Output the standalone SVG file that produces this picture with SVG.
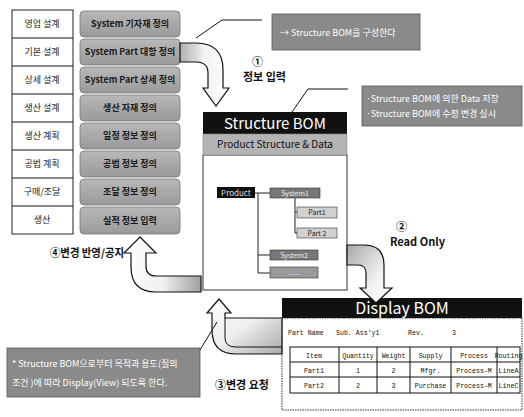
<svg xmlns="http://www.w3.org/2000/svg" width="524" height="417" viewBox="0 0 524 417">
<defs>
<linearGradient id="gbox" x1="0" y1="0" x2="0" y2="1"><stop offset="0" stop-color="#b8b8b8"/><stop offset="1" stop-color="#9a9a9a"/></linearGradient>
<linearGradient id="a1" x1="0" y1="0" x2="1" y2="0"><stop offset="0" stop-color="#b0b0b0"/><stop offset="0.5" stop-color="#f2f2f2"/><stop offset="1" stop-color="#ffffff"/></linearGradient>
<linearGradient id="a2" x1="0" y1="0" x2="1" y2="1"><stop offset="0" stop-color="#a8a8a8"/><stop offset="0.6" stop-color="#f0f0f0"/><stop offset="1" stop-color="#ffffff"/></linearGradient>
<linearGradient id="a4" x1="0" y1="0" x2="1" y2="0"><stop offset="0" stop-color="#ffffff"/><stop offset="0.5" stop-color="#f0f0f0"/><stop offset="1" stop-color="#a0a0a0"/></linearGradient>
<linearGradient id="a3" x1="0" y1="0" x2="1" y2="1"><stop offset="0" stop-color="#ffffff"/><stop offset="0.5" stop-color="#eeeeee"/><stop offset="1" stop-color="#a8a8a8"/></linearGradient>
</defs>
<style>
text{font-family:"Noto Sans CJK KR","Noto Sans",sans-serif;}
.lbox{fill:#fff;stroke:#222;stroke-width:1;}
.lt{font-size:9px;fill:#222;text-anchor:middle;}
.gb{fill:url(#gbox);stroke:#777;stroke-width:0.8;}
.gt{font-size:9px;fill:#1a1a1a;font-weight:bold;text-anchor:middle;}
.note{fill:#8a8a8a;stroke:#555;stroke-width:0.8;}
.nt{font-size:9px;fill:#fff;}
.lbl{font-size:11px;font-weight:bold;fill:#111;}
.arrow{stroke:#111;stroke-width:1.2;}
.ln{fill:none;stroke:#111;stroke-width:1;}
.mono{font-family:"Liberation Mono",monospace;font-size:6.6px;fill:#111;}
.cell{fill:#fff;stroke:#111;stroke-width:1;}
.tree{fill:none;stroke:#222;stroke-width:1;}
</style>

<g id="left-column">
<rect class="lbox" x="12" y="10" width="61" height="224"/>
<line class="ln" x1="12" y1="38" x2="73" y2="38"/>
<line class="ln" x1="12" y1="66" x2="73" y2="66"/>
<line class="ln" x1="12" y1="94" x2="73" y2="94"/>
<line class="ln" x1="12" y1="122" x2="73" y2="122"/>
<line class="ln" x1="12" y1="150" x2="73" y2="150"/>
<line class="ln" x1="12" y1="178" x2="73" y2="178"/>
<line class="ln" x1="12" y1="206" x2="73" y2="206"/>
<text class="lt" x="42" y="27">영업 설계</text>
<text class="lt" x="42" y="55">기본 설계</text>
<text class="lt" x="42" y="83">상세 설계</text>
<text class="lt" x="42" y="111">생산 설계</text>
<text class="lt" x="42" y="139">생산 계획</text>
<text class="lt" x="42" y="167">공법 계획</text>
<text class="lt" x="42" y="195">구매/조달</text>
<text class="lt" x="42" y="223">생산</text>
</g>

<g id="gray-column">
<rect class="gb" x="80" y="11" width="100" height="26" rx="4"/>
<rect class="gb" x="80" y="39" width="100" height="26" rx="4"/>
<rect class="gb" x="80" y="67" width="100" height="26" rx="4"/>
<rect class="gb" x="80" y="95" width="100" height="26" rx="4"/>
<rect class="gb" x="80" y="123" width="100" height="26" rx="4"/>
<rect class="gb" x="80" y="151" width="100" height="26" rx="4"/>
<rect class="gb" x="80" y="179" width="100" height="26" rx="4"/>
<rect class="gb" x="80" y="207" width="100" height="27" rx="4"/>
<text class="gt" x="130" y="27">System 기자재 정의</text>
<text class="gt" x="130" y="55">System Part 대항 정의</text>
<text class="gt" x="130" y="83">System Part 상세 정의</text>
<text class="gt" x="130" y="111">생산 자재 정의</text>
<text class="gt" x="130" y="139">일정 정보 정의</text>
<text class="gt" x="130" y="167">공법 정보 정의</text>
<text class="gt" x="130" y="195">조달 정보 정의</text>
<text class="gt" x="130" y="224">실적 정보 입력</text>
</g>

<g id="note1">
<rect class="note" x="272" y="14" width="148" height="36"/>
<text class="nt" x="280" y="36">→ Structure BOM을 구성한다</text>
</g>

<g id="note2">
<rect class="note" x="362" y="86" width="160" height="40"/>
<text class="nt" x="366" y="102">·Structure BOM에 의한 Data 저장</text>
<text class="nt" x="366" y="117">·Structure BOM에 수정 변경 실시</text>
</g>

<g id="note3">
<rect class="note" x="7" y="348" width="193" height="49"/>
<text class="nt" x="12" y="367">* Structure BOM으로부터 목적과 용도(질의</text>
<text class="nt" x="12" y="386">조건 )에 따라 Display(View) 되도록 한다.</text>
</g>

<g id="structure-bom">
<rect x="203" y="155" width="144" height="135" fill="#fff" stroke="#333" stroke-width="1"/>
<rect x="203" y="112" width="144" height="22" fill="#111"/>
<text x="275" y="129" font-size="15" fill="#fff" text-anchor="middle">Structure BOM</text>
<rect x="203" y="134" width="144" height="21" fill="#b4b4b4" stroke="#888" stroke-width="0.6"/>
<text x="275" y="148" font-size="10" fill="#111" text-anchor="middle">Product  Structure &amp; Data</text>
<path class="tree" d="M255,193 H270 M258,193 V273 H270 M258,255 H270 M295,198 V233 H297 M295,212 H297"/>
<rect x="217" y="187" width="38" height="11" fill="#111"/>
<text x="236" y="196" font-size="8" fill="#ddd" text-anchor="middle" font-family="Liberation Mono,monospace">Product</text>
<rect x="270" y="188" width="50" height="10" fill="#777" stroke="#333" stroke-width="0.6"/>
<text x="295" y="196" font-size="7" fill="#eee" text-anchor="middle">System1</text>
<rect x="297" y="207" width="40" height="11" fill="#d0d0d0" stroke="#333" stroke-width="0.6"/>
<text x="317" y="215" font-size="7" fill="#222" text-anchor="middle" font-family="Liberation Mono,monospace">Part1</text>
<rect x="297" y="228" width="40" height="10" fill="#d0d0d0" stroke="#333" stroke-width="0.6"/>
<text x="317" y="236" font-size="7" fill="#222" text-anchor="middle" font-family="Liberation Mono,monospace">Part 2</text>
<rect x="270" y="250" width="48" height="10" fill="#777" stroke="#333" stroke-width="0.6"/>
<text x="294" y="258" font-size="7" fill="#eee" text-anchor="middle">System2</text>
<rect x="270" y="267" width="48" height="11" fill="#999" stroke="#333" stroke-width="0.6"/>
<text x="294" y="275" font-size="7" fill="#eee" text-anchor="middle">......</text>
</g>

<g id="display-bom">
<rect x="282" y="318" width="240" height="92" fill="#fff" stroke="#333" stroke-width="1" stroke-dasharray="1.5,1"/>
<rect x="282" y="298" width="240" height="20" fill="#111"/>
<text x="402" y="314" font-size="16" fill="#fff" text-anchor="middle">Display BOM</text>
<text class="mono" x="288" y="335">Part Name</text>
<text class="mono" x="336" y="335">Sub. Ass'y1</text>
<text class="mono" x="408" y="335">Rev.</text>
<text class="mono" x="452" y="335">3</text>
<rect class="cell" x="290" y="347" width="230" height="46"/>
<path class="ln" d="M290,362 H520 M290,377 H520 M339,347 V393 M377,347 V393 M410,347 V393 M451,347 V393 M497,347 V393"/>
<g text-anchor="middle">
<text class="mono" x="314" y="357.5">Item</text>
<text class="mono" x="358" y="357.5">Quantity</text>
<text class="mono" x="393.5" y="357.5">Weight</text>
<text class="mono" x="430.5" y="357.5">Supply</text>
<text class="mono" x="474" y="357.5">Process</text>
<text class="mono" x="508.5" y="357.5">Routing</text>
<text class="mono" x="314" y="372.5">Part1</text>
<text class="mono" x="358" y="372.5">1</text>
<text class="mono" x="393.5" y="372.5">2</text>
<text class="mono" x="430.5" y="372.5">Mfgr.</text>
<text class="mono" x="474" y="372.5">Process-M</text>
<text class="mono" x="508.5" y="372.5">LineA</text>
<text class="mono" x="314" y="388">Part2</text>
<text class="mono" x="358" y="388">2</text>
<text class="mono" x="393.5" y="388">3</text>
<text class="mono" x="430.5" y="388">Purchase</text>
<text class="mono" x="474" y="388">Process-M</text>
<text class="mono" x="508.5" y="388">LineC</text>
</g>
</g>

<g id="connectors">
<path class="arrow" fill="url(#a1)" d="M180,43 H196 Q223,43 223,70 V88 H229 L216,106 L203,88 H208 V73 Q208,62 196,62 H180 Z"/>
<path class="arrow" fill="url(#a2)" d="M347,245 H364 Q384,245 384,265 V288 H392 L376,303 L360,288 H366 V273 Q366,265 358,265 H347 Z"/>
<path class="arrow" fill="url(#a4)" d="M140,237 L156,253 H146 V266 Q146,276 156,276 H201 V292 H156 Q131,292 131,267 V253 H124 Z"/>
<path class="arrow" fill="url(#a3)" d="M219,299 L231,313 H225 V318 H282 V354 H236 Q212,354 212,330 V313 H207 Z"/>
<path class="ln" d="M225,318 V338 Q225,347 236,347 H282"/>
<path class="ln" d="M196,38 L222,20 H262"/>
<path class="ln" d="M292,112 L308,89 H348"/>
<path class="ln" d="M200,350 L217,322"/>
</g>

<g id="labels">
<text class="lbl" x="252" y="66" font-size="13">①</text>
<text class="lbl" x="243" y="81">정보 입력</text>
<text class="lbl" x="396" y="231" font-size="13">②</text>
<text class="lbl" x="390" y="246" font-size="10">Read Only</text>
<text class="lbl" x="50" y="257" font-size="10" textLength="74" lengthAdjust="spacingAndGlyphs">④변경 반영/공지</text>
<text class="lbl" x="215" y="389">③변경 요청</text>
</g>
</svg>
